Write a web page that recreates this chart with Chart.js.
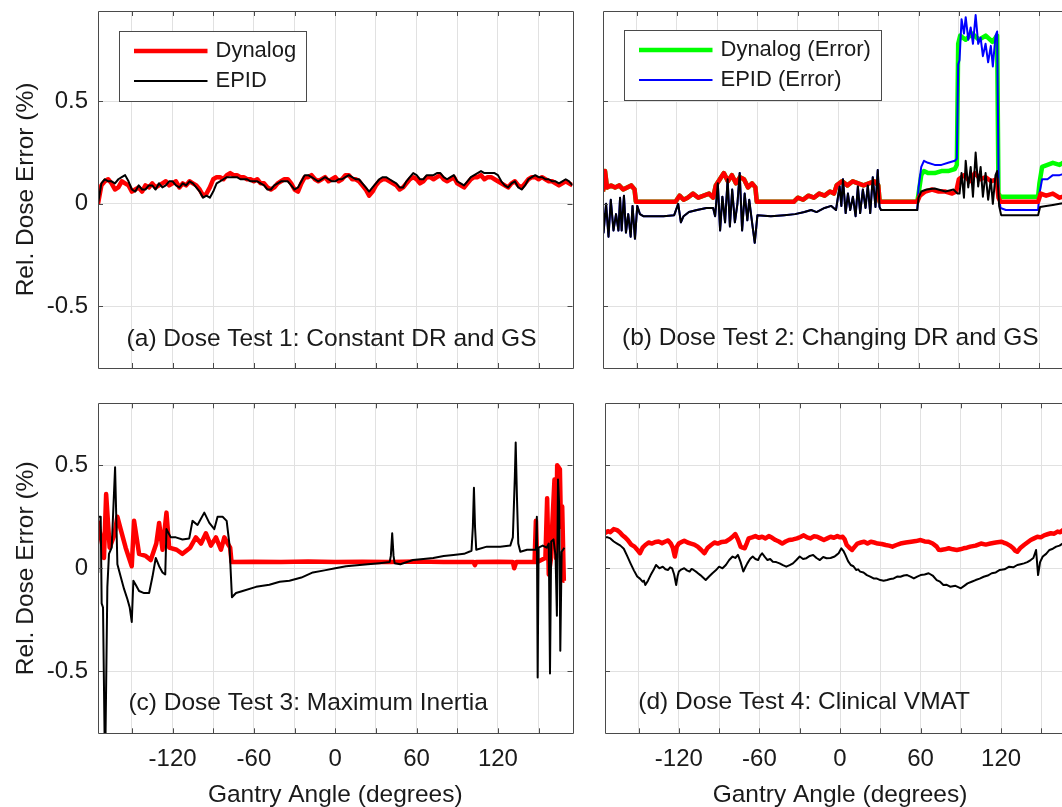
<!DOCTYPE html>
<html>
<head>
<meta charset="utf-8">
<script src="https://cdn.jsdelivr.net/npm/chart.js@4.4.1/dist/chart.umd.min.js"></script>
<style>
  html, body { margin: 0; padding: 0; background: #fff; overflow: hidden; }
  #page { position: relative; width: 1062px; height: 807px; overflow: hidden; background: #fff; }
  canvas { position: absolute; }
</style>
</head>
<body>
<div id="page">
  <canvas id="pa" width="590" height="390" style="left:0px;top:0px"></canvas>
  <canvas id="pb" width="500" height="390" style="left:590px;top:0px"></canvas>
  <canvas id="pc" width="590" height="420" style="left:0px;top:390px"></canvas>
  <canvas id="pd" width="500" height="420" style="left:590px;top:390px"></canvas>
</div>
<script>
// axis setup
const angleMin = -175, angleMax = 175;
const xTickVals = [-150, -120, -90, -60, -30, 0, 30, 60, 90, 120, 150];
const xLabelVals = [-120, -60, 0, 60, 120];
const yTickVals = [-0.5, 0, 0.5];
const yTickText = ['-0.5', '0', '0.5'];
const xTitle = 'Gantry Angle (degrees)';
const yTitle = 'Rel. Dose Error (%)';

// (a) Dose Test 1  [angle, rel. dose error]
const aDynalog = [[-175,0.00],[-172.5,0.09],[-170,0.11],[-167.5,0.12],[-165,0.10],[-162.5,0.07],[-160,0.08],[-157.5,0.11],[-155,0.10],[-152.5,0.09],
  [-150,0.06],[-147.5,0.07],[-145,0.08],[-142.5,0.06],[-140,0.09],[-137.5,0.08],[-135,0.10],[-132.5,0.08],[-130,0.09],[-127.5,0.10],
  [-125,0.11],[-122.5,0.09],[-120,0.10],[-117.5,0.11],[-115,0.08],[-112.5,0.10],[-110,0.09],[-107.5,0.11],[-105,0.10],[-102.5,0.09],
  [-100,0.07],[-97.5,0.04],[-95,0.05],[-92.5,0.08],[-90,0.12],[-87.5,0.13],[-85,0.13],[-82.5,0.12],[-80,0.14],[-77.5,0.15],
  [-75,0.14],[-72.5,0.14],[-70,0.13],[-67.5,0.13],[-65,0.12],[-62.5,0.12],[-60,0.11],[-57.5,0.12],[-55,0.10],[-52.5,0.10],
  [-50,0.08],[-47.5,0.07],[-45,0.08],[-42.5,0.10],[-40,0.11],[-37.5,0.12],[-35,0.12],[-32.5,0.10],[-30,0.07],[-27.5,0.06],
  [-25,0.10],[-22.5,0.13],[-20,0.13],[-17.5,0.14],[-15,0.12],[-12.5,0.11],[-10,0.12],[-7.5,0.13],[-5,0.11],[-2.5,0.12],
  [0,0.13],[2.5,0.11],[5,0.12],[7.5,0.14],[10,0.14],[12.5,0.12],[15,0.12],[17.5,0.11],[20,0.09],[22.5,0.07],
  [25,0.04],[27.5,0.06],[30,0.09],[32.5,0.11],[35,0.12],[37.5,0.12],[40,0.11],[42.5,0.10],[45,0.09],[47.5,0.07],
  [50,0.08],[52.5,0.10],[55,0.12],[57.5,0.13],[60,0.12],[62.5,0.10],[65,0.11],[67.5,0.13],[70,0.13],[72.5,0.12],
  [75,0.13],[77.5,0.14],[80,0.12],[82.5,0.11],[85,0.12],[87.5,0.13],[90,0.10],[92.5,0.09],[95,0.08],[97.5,0.10],
  [100,0.12],[102.5,0.13],[105,0.13],[107.5,0.14],[110,0.12],[112.5,0.13],[115,0.13],[117.5,0.12],[120,0.11],[122.5,0.10],
  [125,0.09],[127.5,0.08],[130,0.10],[132.5,0.11],[135,0.09],[137.5,0.08],[140,0.10],[142.5,0.12],[145,0.13],[147.5,0.13],
  [150,0.12],[152.5,0.13],[155,0.12],[157.5,0.11],[160,0.11],[162.5,0.10],[165,0.09],[167.5,0.10],[170,0.11],[172.5,0.10],[175,0.09]];
const aEpid = [[-175,0.00],[-172.5,0.10],[-170,0.12],[-167.5,0.11],[-165,0.11],[-162.5,0.10],[-160,0.12],[-157.5,0.13],[-155,0.14],[-152.5,0.11],
  [-150,0.07],[-147.5,0.06],[-145,0.09],[-142.5,0.07],[-140,0.07],[-137.5,0.09],[-135,0.09],[-132.5,0.07],[-130,0.10],[-127.5,0.08],
  [-125,0.09],[-122.5,0.11],[-120,0.11],[-117.5,0.09],[-115,0.08],[-112.5,0.10],[-110,0.09],[-107.5,0.11],[-105,0.10],[-102.5,0.08],
  [-100,0.06],[-97.5,0.03],[-95,0.04],[-92.5,0.03],[-90,0.06],[-87.5,0.10],[-85,0.11],[-82.5,0.12],[-80,0.13],[-77.5,0.13],
  [-75,0.13],[-72.5,0.13],[-70,0.12],[-67.5,0.12],[-65,0.12],[-62.5,0.11],[-60,0.11],[-57.5,0.11],[-55,0.10],[-52.5,0.09],
  [-50,0.07],[-47.5,0.07],[-45,0.09],[-42.5,0.10],[-40,0.11],[-37.5,0.11],[-35,0.11],[-32.5,0.09],[-30,0.07],[-27.5,0.08],
  [-25,0.11],[-22.5,0.14],[-20,0.14],[-17.5,0.13],[-15,0.12],[-12.5,0.11],[-10,0.12],[-7.5,0.13],[-5,0.12],[-2.5,0.11],
  [0,0.11],[2.5,0.12],[5,0.12],[7.5,0.13],[10,0.14],[12.5,0.13],[15,0.12],[17.5,0.12],[20,0.10],[22.5,0.08],
  [25,0.06],[27.5,0.08],[30,0.10],[32.5,0.12],[35,0.13],[37.5,0.13],[40,0.12],[42.5,0.11],[45,0.10],[47.5,0.08],
  [50,0.08],[52.5,0.11],[55,0.13],[57.5,0.15],[60,0.14],[62.5,0.12],[65,0.12],[67.5,0.14],[70,0.14],[72.5,0.14],
  [75,0.15],[77.5,0.15],[80,0.13],[82.5,0.12],[85,0.13],[87.5,0.14],[90,0.11],[92.5,0.10],[95,0.09],[97.5,0.11],
  [100,0.13],[102.5,0.14],[105,0.15],[107.5,0.16],[110,0.15],[112.5,0.15],[115,0.15],[117.5,0.15],[120,0.14],[122.5,0.11],
  [125,0.09],[127.5,0.08],[130,0.10],[132.5,0.11],[135,0.08],[137.5,0.07],[140,0.09],[142.5,0.12],[145,0.13],[147.5,0.14],
  [150,0.13],[152.5,0.13],[155,0.12],[157.5,0.12],[160,0.11],[162.5,0.11],[165,0.10],[167.5,0.11],[170,0.12],[172.5,0.11],[175,0.09]];

// (b) Dose Test 2
const bDynalog = [[-175,0.06],[-173.5,0.16],[-172,0.08],[-169,0.09],[-166,0.08],[-163,0.09],[-160,0.07],[-157,0.08],[-154,0.09],[-151.5,0.07],
  [-150.5,0.01],[-121,0.01],[-118,0.04],[-115,0.02],[-112,0.03],[-108,0.05],[-104,0.03],[-100,0.04],[-96,0.05],[-93,0.03],
  [-91,0.09],[-88,0.12],[-85,0.15],[-82,0.11],[-79,0.14],[-76,0.10],[-73,0.13],[-70,0.12],[-67,0.08],[-64,0.10],[-61.5,0.08],
  [-60.5,0.01],[-33,0.01],[-30,0.03],[-26,0.02],[-22,0.04],[-18,0.03],[-14,0.05],[-10,0.04],[-6,0.06],[-3,0.05],
  [-1,0.09],[3,0.11],[7,0.09],[11,0.11],[15,0.10],[19,0.09],[23,0.10],[27,0.11],[30,0.09],
  [31,0.01],[59,0.01],[61,0.04],[65,0.06],[70,0.07],[75,0.06],[80,0.06],[85,0.05],[88,0.06],
  [90,0.12],[94,0.14],[98,0.11],[102,0.15],[106,0.12],[110,0.13],[114,0.11],[118,0.12],
  [119.5,0.03],[121,0.01],[149,0.01],[151,0.05],[155,0.04],[160,0.05],[165,0.03],[170,0.04],[175,0.04]];
const bEpid = [[-175,-0.05],[-174.6,-0.14],[-172.7,0.00],[-170.9,-0.16],[-169.2,0.02],[-167.2,-0.13],[-165.3,-0.05],[-163.5,-0.13],[-162.3,0.03],[-161.1,-0.13],
  [-159.4,0.04],[-157.9,-0.14],[-156.2,-0.05],[-154.4,-0.16],[-153,-0.01],[-151.2,-0.17],[-149.5,-0.01],[-147.5,-0.05],[-145,-0.06],[-130,-0.06],
  [-122,-0.055],[-119,0.00],[-117,-0.09],[-115,-0.06],[-111,-0.04],[-105,-0.03],[-98,-0.02],[-93,-0.02],[-91.5,-0.06],[-89.5,0.10],
  [-87.8,-0.13],[-86.1,0.035],[-84.1,-0.09],[-82.2,0.12],[-80.5,-0.11],[-78.8,0.07],[-76.8,-0.09],[-74.9,0.00],[-73.2,0.15],[-71.4,-0.13],
  [-69.5,0.05],[-67.5,-0.08],[-66.1,0.02],[-64.6,-0.06],[-62,-0.19],[-60,-0.055],[-50,-0.06],[-40,-0.055],[-32,-0.05],[-25,-0.04],
  [-20,-0.03],[-16,-0.04],[-10,-0.02],[-5,-0.01],[-1.5,-0.03],[1.2,0.085],[2.5,-0.01],[3.7,0.12],[5.7,-0.045],[7.4,0.05],
  [9.1,-0.03],[11.1,0.035],[13.1,-0.06],[14.8,0.085],[16.5,-0.045],[18.5,0.07],[20.5,-0.02],[22.2,0.09],[24,-0.045],[25.9,0.13],
  [27.9,-0.015],[29.6,0.165],[30.9,-0.015],[32,-0.03],[59,-0.03],[60,0.03],[62,0.06],[66,0.07],[72,0.075],[80,0.06],
  [86,0.07],[89,0.05],[90.5,0.05],[92,0.15],[93.8,0.03],[95.1,0.21],[97,0.08],[98.8,0.18],[100.5,0.035],[102.5,0.25],
  [104.4,0.085],[106.2,0.18],[107.9,0.035],[109.9,0.15],[111.8,0.02],[113.8,0.12],[115.3,0.00],[117.3,0.14],[118.5,0.16],[120,-0.01],
  [121.5,-0.055],[149,-0.055],[150.5,-0.015],[155,-0.01],[160,-0.005],[165,0.00],[170,0.005],[175,0.00]];
// error runs: same as the plain runs up to 59 degrees, then these values
const bDynalogErr = [[59,0.01],[60,0.05],[62,0.14],[64,0.16],[67,0.15],[72,0.15],[77,0.16],[82,0.16],[87,0.17],[88.5,0.19],
  [89.5,0.78],[91,0.82],[95,0.80],[100,0.83],[105,0.80],[110,0.82],[115,0.79],[118.5,0.82],
  [119.5,0.05],[121,0.035],[149,0.035],[150,0.10],[152,0.18],[156,0.19],[160,0.20],[165,0.19],[170,0.21],[175,0.20]];
const bEpidErr = [[59,-0.03],[60,0.08],[62,0.18],[64,0.21],[67,0.20],[72,0.19],[77,0.19],[82,0.20],[87,0.21],[88.5,0.22],
  [89.5,0.68],[90.5,0.70],[92,0.90],[93.8,0.83],[95.1,0.91],[97,0.80],[98.8,0.86],[100.5,0.78],[102.5,0.92],[104.4,0.78],
  [106.2,0.81],[107.9,0.72],[109.9,0.78],[111.8,0.69],[113.8,0.77],[115.3,0.67],[117.3,0.82],[118.5,0.84],
  [119.7,0.05],[121,-0.02],[125,-0.03],[149,-0.03],[150,0.05],[152,0.12],[156,0.12],[160,0.14],[165,0.14],[170,0.15],[175,0.14]];

// (c) Dose Test 3
const cDynalog = [[-175,0.23],[-174,0.19],[-172,0.12],[-170.6,0.05],[-169,0.36],[-166.4,0.10],[-163,0.16],[-160.7,0.25],[-158.3,0.19],[-154.6,0.10],
  [-150.1,0.01],[-148.4,0.23],[-144.7,0.07],[-139.8,0.06],[-136.1,0.04],[-132,0.12],[-129.9,0.22],[-127.4,0.09],[-124.5,0.27],[-122.5,0.10],
  [-117,0.09],[-112.7,0.07],[-107,0.10],[-102.8,0.15],[-99,0.12],[-95.4,0.17],[-91.7,0.11],[-88,0.15],[-84.3,0.09],[-81.8,0.15],
  [-79.4,0.12],[-77.5,0.10],[-76.5,0.03],[-60,0.032],[-40,0.03],[-20,0.033],[0,0.03],[20,0.032],[40,0.03],[60,0.033],
  [80,0.03],[102,0.03],[103,0.015],[104,0.03],[120,0.032],[131,0.03],[132,0.00],[133.5,0.03],[147,0.03],[148,0.23],
  [149,0.03],[155,0.05],[156.3,0.34],[157.5,-0.03],[159,0.04],[160,0.20],[161.7,0.43],[162.8,0.05],[163.7,0.50],[165.7,0.48],
  [166.5,0.20],[167.4,0.30],[168.6,-0.06],[169.1,-0.06]];
const cEpid = [[-175,-0.02],[-174.8,0.25],[-173,0.25],[-172.3,-0.17],[-171.3,-0.19],[-169.8,-1.0],[-168.1,-0.09],[-166.9,0.07],[-164.9,0.10],[-162.4,0.49],
  [-160.7,0.02],[-158.3,-0.04],[-155.8,-0.10],[-153.3,-0.15],[-151.6,-0.19],[-150.1,-0.26],[-148.9,-0.06],[-147.2,-0.08],[-144.7,-0.11],[-141,-0.12],
  [-137.3,-0.12],[-134.8,-0.04],[-132.4,0.05],[-129.9,0.01],[-127.4,-0.02],[-125.4,-0.03],[-124.5,0.19],[-121.3,0.15],[-117.6,0.15],[-112.7,0.14],
  [-107.7,0.145],[-105.3,0.23],[-101.6,0.21],[-96.6,0.27],[-92.9,0.22],[-89.2,0.19],[-86.8,0.25],[-83.1,0.25],[-80.1,0.23],[-78.1,0.12],
  [-76.2,-0.14],[-73.2,-0.12],[-68.3,-0.11],[-58.4,-0.09],[-48.6,-0.08],[-41,-0.065],[-33.8,-0.06],[-25,-0.045],[-16.5,-0.02],[-8,-0.01],
  [0,0.00],[8,0.01],[16,0.015],[24,0.02],[32.7,0.025],[40.1,0.03],[41,0.06],[42,0.17],[43,0.06],[43.8,0.025],
  [48,0.02],[57.3,0.04],[65,0.045],[72.3,0.05],[80,0.06],[87.2,0.065],[95,0.07],[100.5,0.085],[101.5,0.20],[102.3,0.39],
  [103.1,0.20],[104,0.09],[111.8,0.105],[121.7,0.105],[129.1,0.11],[131,0.15],[132.5,0.45],[133.1,0.61],[134,0.35],[135,0.12],
  [136.5,0.08],[141.5,0.09],[146.4,0.09],[148,0.09],[148.7,0.25],[149.3,-0.53],[150,0.10],[153,0.11],[156,0.10],[157.5,0.12],
  [158.4,-0.51],[159.3,0.13],[161,0.14],[162.5,0.06],[163.5,-0.23],[164.3,0.43],[165.2,0.30],[166,-0.40],[167,0.08],[169,0.10]];

// (d) Dose Test 4
const dDynalog = [[-175,0.17],[-173,0.18],[-171,0.175],[-168.5,0.19],[-166,0.185],[-164,0.175],[-162,0.16],[-160,0.15],[-158,0.137],[-155.5,0.115],
  [-153,0.105],[-151,0.09],[-149,0.073],[-147,0.10],[-145,0.113],[-142.5,0.125],[-140,0.12],[-137.5,0.128],[-135,0.13],[-132.5,0.122],
  [-130,0.13],[-128,0.135],[-126,0.12],[-124.5,0.10],[-123,0.057],[-121.5,0.105],[-120,0.12],[-118,0.127],[-116,0.134],[-113.5,0.125],
  [-111,0.12],[-108.5,0.115],[-106,0.105],[-103.5,0.09],[-101,0.073],[-98.5,0.10],[-96,0.113],[-93.5,0.125],[-91,0.12],[-88,0.128],
  [-85,0.13],[-82.5,0.14],[-80,0.153],[-78,0.166],[-76,0.14],[-74,0.105],[-72.5,0.10],[-71,0.097],[-69.5,0.12],[-68,0.145],
  [-65.5,0.15],[-63,0.156],[-60.5,0.148],[-58,0.153],[-55.5,0.145],[-53,0.156],[-50.5,0.148],[-48,0.137],[-45.5,0.13],[-43,0.12],
  [-40.5,0.13],[-38,0.137],[-35,0.14],[-32,0.145],[-29.5,0.152],[-27,0.16],[-24.5,0.15],[-22,0.145],[-19.5,0.155],[-17,0.153],
  [-14.5,0.145],[-12,0.137],[-9.5,0.145],[-7,0.153],[-4.5,0.148],[-2,0.156],[0,0.15],[2,0.153],[3.5,0.14],[5,0.113],
  [7,0.10],[9,0.089],[11,0.105],[13,0.12],[15.5,0.125],[18,0.129],[20.5,0.12],[23,0.129],[25.5,0.125],[28,0.12],
  [31,0.118],[34,0.113],[36.5,0.11],[39,0.105],[42,0.113],[45,0.12],[49,0.125],[53,0.129],[56.5,0.132],[60,0.137],
  [63,0.13],[66,0.129],[69,0.12],[72,0.105],[73.5,0.09],[75,0.089],[78,0.092],[81,0.097],[84,0.092],[87,0.089],
  [89.5,0.092],[92,0.097],[94.5,0.10],[97,0.105],[101,0.11],[105,0.12],[108.5,0.115],[112,0.12],[116,0.125],[120,0.129],
  [122,0.124],[124,0.12],[126.5,0.11],[129,0.097],[130.5,0.085],[132,0.08],[134.5,0.10],[137,0.113],[139.5,0.125],[142,0.137],
  [144.5,0.145],[147,0.153],[149.5,0.15],[152,0.16],[154.5,0.165],[157,0.17],[159.5,0.168],[162,0.178],[164,0.175],[166,0.185],
  [168,0.178],[170,0.18],[172.5,0.185],[175,0.18]];
const dEpid = [[-175,0.15],[-173,0.15],[-171,0.145],[-168.5,0.13],[-166,0.12],[-163.5,0.11],[-161,0.095],[-158.5,0.06],[-156,0.024],[-153.5,-0.01],
  [-151,-0.04],[-149,-0.05],[-147,-0.065],[-146,-0.06],[-145,-0.081],[-143,-0.06],[-141,-0.033],[-139,-0.01],[-137,0.016],[-134.5,0.00],
  [-132,0.008],[-130,-0.005],[-128,-0.008],[-126.5,0.005],[-125,0.00],[-123.5,-0.03],[-122,-0.081],[-121,-0.04],[-120,-0.016],[-118,-0.005],
  [-116,0.00],[-114,-0.01],[-112,-0.016],[-110.5,-0.003],[-109,-0.008],[-106.5,-0.02],[-104,-0.033],[-102,-0.045],[-100,-0.057],[-97.5,-0.04],
  [-95,-0.024],[-92.5,-0.01],[-90,0.008],[-87.5,0.00],[-85,0.016],[-82.5,0.04],[-80,0.057],[-78,0.05],[-76,0.065],[-74,0.03],
  [-72,-0.016],[-70.5,0.005],[-69,0.024],[-67,0.045],[-65,0.057],[-63,0.045],[-61,0.04],[-59.5,0.06],[-58,0.073],[-56,0.055],
  [-54,0.04],[-52,0.045],[-50,0.032],[-47.5,0.03],[-45,0.024],[-42.5,0.015],[-40,0.008],[-37.5,0.015],[-35,0.024],[-32.5,0.04],
  [-30,0.057],[-27.5,0.045],[-25,0.049],[-22.5,0.06],[-20,0.065],[-17.5,0.05],[-15,0.04],[-12.5,0.055],[-10,0.049],[-7,0.05],
  [-4,0.057],[-2.5,0.065],[-1,0.073],[1,0.097],[2.5,0.085],[4,0.065],[6,0.035],[8,0.016],[10,0.01],[12,-0.008],
  [13.5,-0.005],[15,-0.016],[17.5,-0.02],[20,-0.033],[22.5,-0.04],[25,-0.049],[27.5,-0.05],[30,-0.057],[32.5,-0.06],[35,-0.057],
  [37.5,-0.052],[40,-0.049],[42.5,-0.04],[45,-0.041],[47.5,-0.035],[50,-0.033],[52.5,-0.04],[55,-0.049],[57.5,-0.04],[60,-0.033],
  [63,-0.03],[66,-0.024],[69,-0.035],[72,-0.057],[74.5,-0.065],[77,-0.081],[79.5,-0.08],[82,-0.089],[86,-0.085],[90,-0.097],
  [92.5,-0.085],[95,-0.073],[98,-0.065],[101,-0.057],[104,-0.05],[107,-0.041],[110,-0.035],[113,-0.024],[116,-0.02],[119,-0.008],
  [122.5,-0.005],[126,0.008],[129,0.005],[132,0.016],[134.5,0.02],[137,0.024],[139.5,0.03],[142,0.04],[144,0.05],[146,0.089],
  [147.5,-0.033],[149,0.03],[151,0.057],[153.5,0.07],[156,0.089],[158.5,0.095],[161,0.105],[163.5,0.11],[166,0.121],[168,0.118],
  [170,0.13],[172.5,0.135],[175,0.14]];

const fam = '"Liberation Sans", Arial, Helvetica, sans-serif';
const textColor = '#1a1a1a';
const gridColor = '#e1e1e1';
const frameColor = '#4a4a4a';
const tickLen = 5;

// box + inward tick marks like the matlab axes
const framePlugin = {
  id: 'frame',
  afterDatasetsDraw(chart) {
    const { ctx, chartArea: a, scales } = chart;
    ctx.save();
    ctx.strokeStyle = frameColor;
    ctx.lineWidth = 1;
    ctx.beginPath();
    scales.x.ticks.forEach(t => {
      const px = Math.round(scales.x.getPixelForValue(t.value)) + 0.5;
      ctx.moveTo(px, a.top); ctx.lineTo(px, a.top + tickLen);
      ctx.moveTo(px, a.bottom); ctx.lineTo(px, a.bottom - tickLen);
    });
    scales.y.ticks.forEach(t => {
      const py = Math.round(scales.y.getPixelForValue(t.value)) + 0.5;
      ctx.moveTo(a.left, py); ctx.lineTo(a.left + tickLen, py);
      ctx.moveTo(a.right, py); ctx.lineTo(a.right - tickLen, py);
    });
    ctx.rect(Math.round(a.left) + 0.5, Math.round(a.top) + 0.5, Math.round(a.right - a.left), Math.round(a.bottom - a.top));
    ctx.stroke();
    ctx.restore();
  }
};

const notePlugin = {
  id: 'panelNote',
  afterDatasetsDraw(chart, args, o) {
    if (!o || !o.text) return;
    const { ctx, chartArea: a } = chart;
    ctx.save();
    ctx.font = '24.5px ' + fam;
    ctx.fillStyle = textColor;
    ctx.textAlign = 'left';
    ctx.textBaseline = 'middle';
    ctx.fillText(o.text, a.left + o.dx, a.bottom - o.dy);
    ctx.restore();
  }
};

const boxLegendPlugin = {
  id: 'boxLegend',
  afterDatasetsDraw(chart, args, o) {
    if (!o || !o.items) return;
    const { ctx, chartArea: a } = chart;
    ctx.save();
    ctx.font = '22px ' + fam;
    const sets = o.items.map(l => chart.data.datasets.find(d => d.label === l));
    const tw = Math.max(...o.items.map(l => ctx.measureText(l).width));
    const x0 = Math.round(a.left + o.dx), y0 = Math.round(a.top + o.dy);
    const w = Math.round(96.5 + tw + 10), h = 70;
    ctx.fillStyle = '#fff';
    ctx.fillRect(x0, y0, w, h);
    ctx.strokeStyle = frameColor;
    ctx.lineWidth = 1;
    ctx.strokeRect(x0 + 0.5, y0 + 0.5, w, h);
    sets.forEach((d, i) => {
      const yy = y0 + 20 + i * 30;
      ctx.strokeStyle = d.borderColor;
      ctx.lineWidth = d.borderWidth;
      ctx.beginPath();
      ctx.moveTo(x0 + 15, yy);
      ctx.lineTo(x0 + 88.5, yy);
      ctx.stroke();
      ctx.fillStyle = textColor;
      ctx.textAlign = 'left';
      ctx.textBaseline = 'middle';
      ctx.fillText(d.label, x0 + 96.5, yy);
    });
    ctx.restore();
  }
};

function makePanel(id, p) {
  const el = document.getElementById(id);
  const W = el.width, H = el.height;
  return new Chart(el, {
    type: 'line',
    data: {
      datasets: p.series.map((s, i) => ({
        label: s.label,
        data: s.points.map(q => ({ x: q[0], y: q[1] })),
        borderColor: s.color,
        backgroundColor: s.color,
        borderWidth: s.width,
        pointRadius: 0,
        tension: 0,
        fill: false,
        clip: 0,
        order: i,
        borderJoinStyle: 'round'
      }))
    },
    options: {
      responsive: false,
      animation: false,
      events: [],
      layout: { padding: { left: 0, right: W - p.right, top: p.top, bottom: H - p.bottom - p.xH } },
      scales: {
        x: {
          type: 'linear', min: angleMin, max: angleMax,
          afterBuildTicks: s => { s.ticks = xTickVals.map(v => ({ value: v })); },
          afterFit: s => { s.height = p.xH; s.paddingLeft = 0; s.paddingRight = 0; s.paddingTop = 0; s.paddingBottom = 0; },
          grid: { color: gridColor, lineWidth: 1, drawTicks: false },
          border: { display: false },
          ticks: {
            display: p.showX, autoSkip: false, maxRotation: 0, minRotation: 0, padding: 12,
            color: textColor, font: { family: fam, size: 24 },
            callback: v => xLabelVals.includes(v) ? String(v) : ''
          },
          title: { display: p.showX, text: xTitle, color: textColor, font: { family: fam, size: 24.5 }, padding: 0 }
        },
        y: {
          type: 'linear', min: p.yMin, max: p.yMax,
          afterBuildTicks: s => { s.ticks = yTickVals.map(v => ({ value: v })); },
          afterFit: s => { s.width = p.left; s.paddingLeft = 0; s.paddingRight = 0; s.paddingTop = 0; s.paddingBottom = 0; },
          grid: { color: gridColor, lineWidth: 1, drawTicks: false },
          border: { display: false },
          ticks: {
            display: p.showY, autoSkip: false, padding: 10,
            color: textColor, font: { family: fam, size: 24 },
            callback: v => yTickText[yTickVals.indexOf(v)]
          },
          title: { display: p.showY, text: yTitle, color: textColor, font: { family: fam, size: 24.5 }, padding: { top: 12, bottom: 0 } }
        }
      },
      plugins: {
        legend: { display: false },
        tooltip: { enabled: false },
        boxLegend: p.legend || false,
        panelNote: p.note
      }
    },
    plugins: [framePlugin, notePlugin, boxLegendPlugin]
  });
}

makePanel('pa', {
  left: 98, top: 11, right: 572.5, bottom: 368, xH: 0, yMin: -0.8, yMax: 0.94, showX: false, showY: true,
  series: [
    { label: 'EPID', points: aEpid, color: '#000000', width: 2 },
    { label: 'Dynalog', points: aDynalog, color: '#ff0000', width: 4.5 }
  ],
  legend: { items: ['Dynalog', 'EPID'], dx: 20.5, dy: 20 },
  note: { text: '(a) Dose Test 1: Constant DR and GS', dx: 28.6, dy: 28.5 }
});

makePanel('pb', {
  left: 13, top: 11, right: 483, bottom: 368, xH: 0, yMin: -0.8, yMax: 0.94, showX: false, showY: false,
  series: [
    { label: 'EPID', points: bEpid, color: '#000000', width: 2 },
    { label: 'Dynalog', points: bDynalog, color: '#ff0000', width: 4.5 },
    { label: 'EPID (Error)', points: bEpid.filter(q => q[0] < 59).concat(bEpidErr), color: '#0000ff', width: 2 },
    { label: 'Dynalog (Error)', points: bDynalog.filter(q => q[0] < 59).concat(bDynalogErr), color: '#00ff00', width: 4.5 }
  ],
  legend: { items: ['Dynalog (Error)', 'EPID (Error)'], dx: 21, dy: 18.5 },
  note: { text: '(b) Dose Test 2: Changing DR and GS', dx: 19, dy: 29.5 }
});

makePanel('pc', {
  left: 98, top: 13.3, right: 572.5, bottom: 343.3, xH: 76.4, yMin: -0.8, yMax: 0.8, showX: true, showY: true,
  series: [
    { label: 'EPID', points: cEpid, color: '#000000', width: 2 },
    { label: 'Dynalog', points: cDynalog, color: '#ff0000', width: 4.5 }
  ],
  note: { text: '(c) Dose Test 3: Maximum Inertia', dx: 30.4, dy: 30 }
});

makePanel('pd', {
  left: 15, top: 13.3, right: 485, bottom: 343.3, xH: 76.4, yMin: -0.8, yMax: 0.8, showX: true, showY: false,
  series: [
    { label: 'EPID', points: dEpid, color: '#000000', width: 2 },
    { label: 'Dynalog', points: dDynalog, color: '#ff0000', width: 4.5 }
  ],
  note: { text: '(d) Dose Test 4: Clinical VMAT', dx: 33.3, dy: 31.5 }
});
</script>
</body>
</html>
